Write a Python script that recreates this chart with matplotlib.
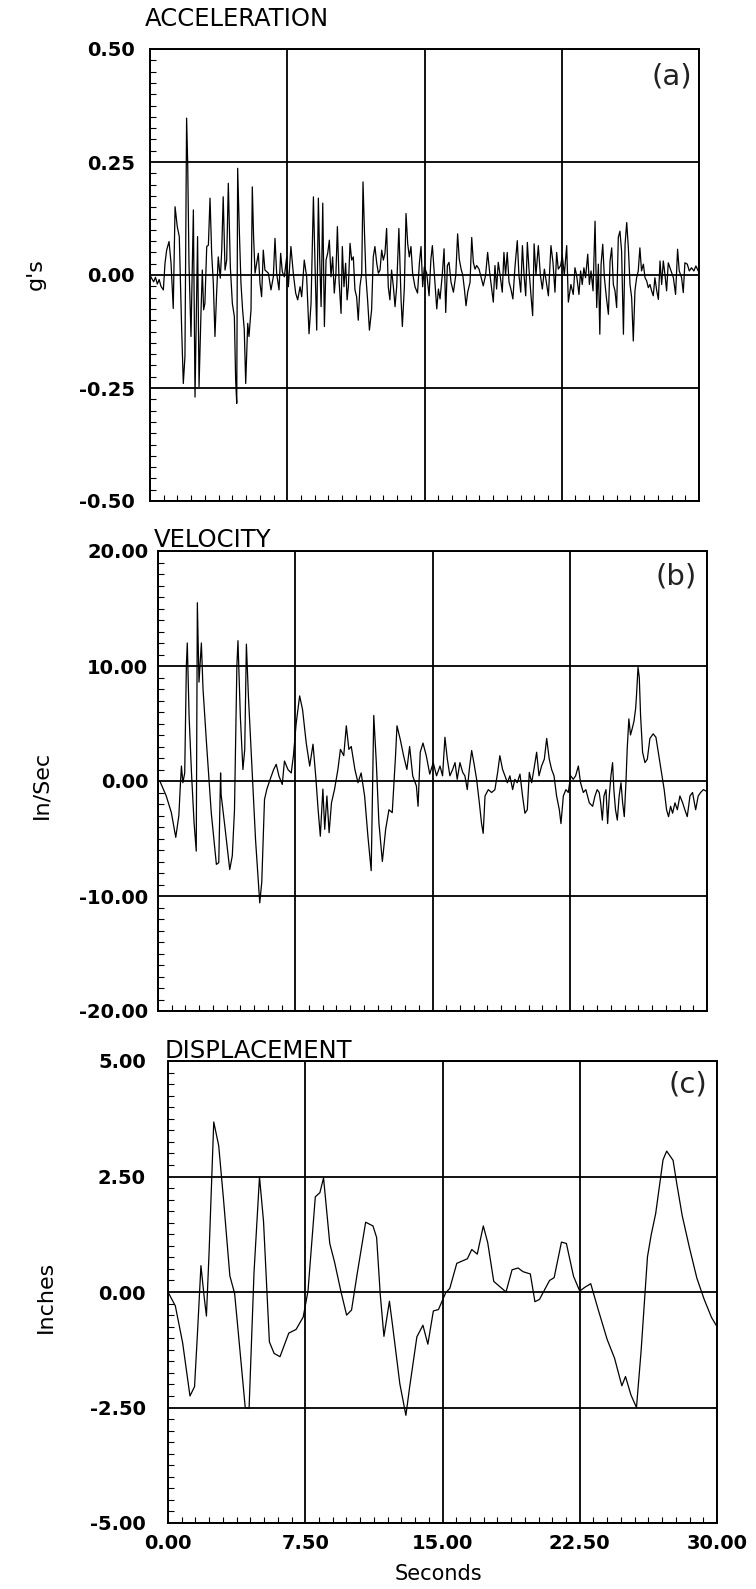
import matplotlib
matplotlib.use("Agg")
import matplotlib.pyplot as plt
from matplotlib.ticker import MultipleLocator, FixedLocator

plt.rcParams['font.family'] = ['DejaVu Sans']
plt.rcParams['axes.unicode_minus'] = False

# ---------------- data ----------------
acc_t = [0.0, 0.1, 0.2, 0.3, 0.4, 0.5, 0.6, 0.73, 0.82, 0.91, 1.04, 1.15, 1.27, 1.37, 1.49, 1.6,
         1.73, 1.82, 1.91, 2.0, 2.06, 2.13, 2.24, 2.37, 2.46, 2.55, 2.6, 2.68, 2.79, 2.86, 2.93,
         3.0, 3.1, 3.19, 3.28, 3.37, 3.46, 3.55, 3.64, 3.73, 3.84, 3.92, 4.0, 4.1, 4.19, 4.28,
         4.39, 4.5, 4.61, 4.68, 4.74, 4.79, 4.88, 4.97, 5.06, 5.15, 5.23, 5.34, 5.41, 5.52,
         5.59, 5.66, 5.74, 5.92, 6.01, 6.1, 6.19, 6.28, 6.47, 6.61, 6.74, 6.83, 6.92, 7.05,
         7.14, 7.23, 7.34, 7.47, 7.56, 7.7, 7.83, 7.96, 8.07, 8.2, 8.29, 8.43, 8.56, 8.69, 8.8,
         8.93, 9.02, 9.11, 9.2, 9.27, 9.35, 9.44, 9.53, 9.62, 9.71, 9.8, 9.89, 9.98, 10.07,
         10.16, 10.24, 10.33, 10.44, 10.51, 10.6, 10.69, 10.77, 10.84, 10.93, 11.02, 11.11,
         11.2, 11.29, 11.38, 11.47, 11.57, 11.64, 11.71, 11.8, 11.89, 11.99, 12.11, 12.2,
         12.29, 12.39, 12.48, 12.57, 12.66, 12.75, 12.84, 12.93, 13.02, 13.11, 13.2, 13.3,
         13.39, 13.48, 13.6, 13.72, 13.79, 13.9, 13.99, 14.08, 14.17, 14.26, 14.35, 14.48,
         14.62, 14.72, 14.81, 14.9, 14.99, 15.12, 15.25, 15.35, 15.43, 15.54, 15.67, 15.76,
         15.85, 15.97, 16.07, 16.16, 16.25, 16.34, 16.45, 16.58, 16.71, 16.81, 16.9, 17.0,
         17.09, 17.18, 17.27, 17.36, 17.49, 17.58, 17.67, 17.76, 17.85, 17.98, 18.12, 18.21,
         18.34, 18.45, 18.56, 18.67, 18.76, 18.85, 18.94, 19.03, 19.13, 19.25, 19.34, 19.43,
         19.52, 19.62, 19.72, 19.83, 19.95, 20.07, 20.16, 20.26, 20.35, 20.44, 20.53, 20.62,
         20.71, 20.82, 20.91, 20.99, 21.09, 21.22, 21.33, 21.44, 21.55, 21.66, 21.77, 21.91,
         22.02, 22.13, 22.22, 22.31, 22.44, 22.53, 22.64, 22.77, 22.86, 23.0, 23.13, 23.22,
         23.31, 23.44, 23.53, 23.62, 23.71, 23.8, 23.92, 24.01, 24.1, 24.21, 24.32, 24.41,
         24.5, 24.58, 24.65, 24.74, 24.83, 24.94, 25.05, 25.14, 25.23, 25.32, 25.41, 25.5,
         25.59, 25.68, 25.77, 25.87, 25.96, 26.05, 26.14, 26.23, 26.32, 26.41, 26.5, 26.59,
         26.68, 26.77, 26.86, 26.96, 27.05, 27.14, 27.23, 27.32, 27.41, 27.5, 27.59, 27.69,
         27.78, 27.87, 27.96, 28.05, 28.14, 28.23, 28.32, 28.47, 28.6, 28.72, 28.83, 28.92,
         29.05, 29.14, 29.23, 29.36, 29.47, 29.59, 29.72, 29.83, 29.96]
acc_g = [0.0, -0.008, -0.015, -0.005, -0.02, -0.01, -0.025, -0.033, 0.026, 0.055, 0.074, 0.026,
         -0.074, 0.151, 0.107, 0.085, -0.12, -0.24, -0.18, 0.347, 0.247, 0.026, -0.136, 0.144,
         -0.27, -0.04, 0.085, -0.247, -0.077, 0.011, -0.077, -0.063, 0.063, 0.066, 0.17, 0.048,
         -0.018, -0.136, -0.04, 0.04, -0.007, 0.055, 0.173, 0.011, 0.033, 0.203, 0.018, -0.063,
         -0.092, -0.232, -0.284, 0.236, 0.1, -0.018, -0.077, -0.12, -0.24, -0.107, -0.136,
         -0.077, 0.195, 0.085, 0.004, 0.048, -0.018, -0.048, 0.055, 0.011, 0.004, -0.033,
         -0.004, 0.081, 0.004, -0.033, 0.048, 0.007, -0.004, 0.04, -0.026, 0.063, 0.004, -0.04,
         -0.055, -0.026, -0.048, 0.033, -0.004, -0.13, -0.063, 0.173, 0.018, -0.122, 0.17, 0.04,
         -0.07, 0.159, -0.114, 0.033, 0.048, 0.077, -0.004, 0.04, -0.04, 0.004, 0.107, -0.011,
         -0.085, 0.063, -0.026, 0.026, -0.055, -0.026, 0.07, 0.033, 0.04, -0.033, -0.048, -0.1,
         -0.026, 0.004, 0.206, 0.107, -0.004, -0.055, -0.122, -0.077, 0.04, 0.063, 0.026, 0.004,
         0.011, 0.055, 0.033, 0.048, 0.103, -0.026, -0.055, 0.011, -0.026, -0.07, -0.026, 0.103,
         -0.055, -0.114, -0.026, 0.136, 0.07, 0.04, 0.063, 0.004, -0.026, -0.04, 0.026, 0.063,
         -0.026, 0.018, 0.004, -0.046, 0.035, 0.065, 0.0, -0.075, -0.031, -0.053, 0.0, 0.058,
         -0.083, 0.021, 0.028, -0.016, -0.038, 0.0, 0.091, 0.035, 0.013, 0.0, -0.031, -0.068,
         -0.038, -0.016, 0.083, 0.028, 0.013, 0.021, 0.013, -0.009, -0.024, 0.0, 0.05, 0.006,
         -0.031, -0.06, 0.021, -0.031, 0.028, 0.0, -0.038, 0.05, 0.0, 0.05, -0.016, -0.031,
         -0.053, 0.021, 0.076, 0.0, -0.038, 0.065, 0.0, -0.046, 0.072, 0.013, -0.046, -0.09,
         0.069, 0.0, 0.065, 0.0, -0.031, 0.013, -0.016, -0.046, 0.065, 0.028, -0.038, 0.05,
         0.013, 0.021, 0.043, 0.0, 0.065, -0.06, -0.021, -0.043, 0.016, 0.0, -0.043, 0.009,
         -0.021, 0.016, -0.006, 0.046, -0.021, 0.009, -0.035, 0.119, -0.072, 0.024, -0.131,
         0.024, 0.068, -0.006, -0.05, -0.087, 0.031, 0.06, -0.021, -0.035, -0.072, 0.083,
         0.097, 0.053, -0.131, 0.068, 0.116, 0.06, -0.021, -0.05, -0.146, -0.035, -0.006,
         0.009, 0.06, 0.009, 0.024, -0.006, -0.013, -0.028, -0.021, -0.035, -0.046, -0.006,
         -0.035, -0.054, 0.031, -0.021, 0.031, 0.001, -0.035, 0.027, 0.009, -0.006, -0.043,
         0.057, 0.009, -0.006, -0.039, 0.027, 0.024, 0.009, 0.016, 0.009, 0.02, 0.009]

vel_t = [0.0, 0.1, 0.45, 0.73, 0.97, 1.14, 1.22, 1.28, 1.36, 1.46, 1.55, 1.6, 1.7, 1.83, 1.97,
         2.09, 2.15, 2.24, 2.37, 2.46, 2.65, 2.91, 3.19, 3.32, 3.42, 3.45, 3.65, 3.92, 4.06,
         4.18, 4.31, 4.37, 4.5, 4.64, 4.74, 4.83, 4.94, 5.1, 5.33, 5.56, 5.67, 5.82, 5.95,
         6.14, 6.32, 6.46, 6.61, 6.79, 6.91, 7.1, 7.28, 7.4, 7.55, 7.74, 7.9, 8.1, 8.29, 8.47,
         8.62, 8.75, 8.87, 9.01, 9.11, 9.23, 9.35, 9.48, 9.65, 9.83, 9.97, 10.15, 10.29,
         10.43, 10.56, 10.76, 10.93, 11.1, 11.29, 11.47, 11.65, 11.79, 11.93, 12.07, 12.26,
         12.44, 12.62, 12.8, 12.98, 13.06, 13.24, 13.42, 13.6, 13.75, 13.92, 14.12, 14.21,
         14.33, 14.48, 14.66, 14.85, 15.04, 15.22, 15.41, 15.55, 15.68, 15.81, 15.95, 16.1,
         16.23, 16.35, 16.5, 16.65, 16.77, 16.9, 17.01, 17.14, 17.26, 17.41, 17.56, 17.68,
         17.77, 17.87, 18.05, 18.23, 18.41, 18.56, 18.68, 18.83, 18.96, 19.09, 19.23, 19.38,
         19.5, 19.63, 19.78, 19.92, 20.05, 20.18, 20.29, 20.42, 20.54, 20.69, 20.82, 20.96,
         21.11, 21.24, 21.38, 21.51, 21.64, 21.78, 21.93, 22.02, 22.15, 22.29, 22.42, 22.55,
         22.69, 22.82, 22.97, 23.09, 23.24, 23.38, 23.57, 23.75, 23.88, 24.0, 24.11, 24.19,
         24.28, 24.37, 24.48, 24.57, 24.66, 24.75, 24.84, 24.91, 25.0, 25.1, 25.2, 25.3,
         25.39, 25.48, 25.57, 25.64, 25.73, 25.82, 25.92, 26.01, 26.1, 26.15, 26.23, 26.3,
         26.37, 26.48, 26.61, 26.74, 26.88, 27.06, 27.21, 27.34, 27.52, 27.66, 27.79, 27.9,
         28.01, 28.12, 28.25, 28.38, 28.52, 28.67, 28.79, 28.92, 29.07, 29.21, 29.38, 29.52,
         29.65, 29.8, 29.98]
vel_v = [0.0, 0.0, -1.3, -2.75, -4.9, -3.0, -0.4, 1.3, -0.15, 0.7, 10.0, 12.0, 5.6, 0.7, -3.6,
         -6.1, 15.5, 8.6, 12.0, 8.0, 3.3, -2.75, -7.25, -7.1, 0.7, -1.2, -3.9, -7.7, -6.5,
         -2.5, 10.0, 12.2, 5.6, 1.0, 2.75, 11.9, 7.4, 2.2, -5.1, -10.6, -8.8, -1.6, -0.7,
         0.2, 1.0, 1.45, 0.43, -0.3, 1.74, 1.0, 0.7, 2.2, 5.0, 7.4, 6.2, 3.3, 1.3, 3.2, 0.4,
         -2.5, -4.8, -0.7, -4.2, -1.3, -4.5, -1.9, -0.7, 1.0, 2.75, 2.2, 4.8, 2.75, 3.0, 1.0,
         -0.15, 0.7, -1.3, -4.8, -7.8, 5.7, 1.6, -3.6, -7.0, -4.2, -2.5, -2.75, 2.2, 4.8, 3.6,
         2.2, 1.0, 3.0, 0.43, -0.43, -2.2, 2.5, 3.3, 2.2, 0.6, 1.6, 0.45, 1.3, 0.45, 3.8, 1.9,
         0.45, 1.0, 1.6, 0.15, 1.6, 0.75, 0.45, -0.75, 1.0, 2.65, 1.6, 0.15, -1.9, -3.7,
         -4.55, -1.3, -0.75, -1.0, -0.75, 0.75, 2.2, 1.0, 0.45, -0.15, 0.45, -0.75, 0.15,
         -0.15, 0.6, -1.3, -2.8, -2.5, 0.75, -0.15, 1.0, 2.5, 0.45, 1.3, 1.9, 3.7, 1.9, 1.0,
         0.45, -1.3, -2.5, -3.7, -1.3, -0.75, -1.0, 0.45, 0.15, 0.45, 1.3, -0.15, -1.0,
         -0.75, -1.9, -2.2, -1.3, -0.75, -1.0, -1.9, -3.4, -1.3, -0.75, -3.7, -1.3, 0.45,
         1.6, -0.75, -2.5, -3.4, -1.3, -0.15, -1.9, -3.1, -0.15, 2.8, 5.4, 4.0, 4.6, 5.2,
         6.3, 7.5, 9.9, 9.0, 5.7, 2.5, 1.6, 1.9, 3.7, 4.1, 3.8, 2.5, 0.75, -0.75, -2.5, -3.1,
         -2.2, -2.8, -1.9, -2.5, -1.3, -1.9, -2.5, -3.1, -1.3, -1.0, -2.5, -1.3, -1.0, -0.75,
         -0.9]

disp_t = [0.0, 0.4, 0.8, 1.2, 1.45, 1.6, 1.8, 1.98, 2.1, 2.25, 2.5, 2.77, 3.03, 3.38, 3.64,
          3.9, 4.22, 4.43, 4.7, 5.0, 5.22, 5.54, 5.8, 6.12, 6.6, 7.0, 7.39, 7.65, 8.05, 8.3,
          8.5, 8.84, 9.1, 9.45, 9.76, 10.03, 10.34, 10.8, 11.2, 11.4, 11.6, 11.8, 12.1, 12.27,
          12.67, 13.0, 13.2, 13.6, 13.93, 14.2, 14.5, 14.78, 15.17, 15.4, 15.78, 16.36, 16.6,
          16.9, 17.23, 17.47, 17.8, 18.47, 18.8, 19.13, 19.4, 19.8, 20.05, 20.3, 20.85, 21.1,
          21.5, 21.77, 22.16, 22.5, 22.77, 23.1, 23.5, 24.0, 24.4, 24.8, 25.0, 25.3, 25.6,
          25.85, 26.2, 26.4, 26.65, 27.05, 27.25, 27.6, 27.8, 28.1, 28.5, 28.9, 29.3, 29.7,
          30.0]
disp_in = [0.0, -0.3, -1.1, -2.25, -2.05, -0.97, 0.57, -0.12, -0.52, 0.91, 3.68, 3.17, 2.02,
           0.35, -0.03, -1.13, -2.5, -2.52, 0.42, 2.49, 1.53, -1.08, -1.33, -1.4, -0.89, -0.81,
           -0.54, 0.02, 2.06, 2.15, 2.47, 1.05, 0.65, 0.01, -0.5, -0.39, 0.4, 1.51, 1.43, 1.18,
           -0.06, -0.96, -0.2, -0.72, -1.99, -2.67, -2.07, -0.97, -0.72, -1.13, -0.41, -0.38,
           -0.02, 0.08, 0.62, 0.72, 0.92, 0.82, 1.43, 1.07, 0.23, 0.0, 0.48, 0.52, 0.44, 0.39,
           -0.21, -0.16, 0.25, 0.31, 1.08, 1.05, 0.34, 0.02, 0.1, 0.18, -0.37, -1.03, -1.43,
           -2.03, -1.83, -2.23, -2.5, -1.29, 0.76, 1.23, 1.7, 2.86, 3.05, 2.85, 2.35, 1.65,
           0.95, 0.3, -0.16, -0.55, -0.75]

x_ticks = [0.0, 7.5, 15.0, 22.5, 30.0]
x_tick_labels = ["0.00", "7.50", "15.00", "22.50", "30.00"]
acc_ticks = [-0.5, -0.25, 0.0, 0.25, 0.5]
acc_tick_labels = ["-0.50", "-0.25", "0.00", "0.25", "0.50"]
vel_ticks = [-20.0, -10.0, 0.0, 10.0, 20.0]
vel_tick_labels = ["-20.00", "-10.00", "0.00", "10.00", "20.00"]
disp_ticks = [-5.0, -2.5, 0.0, 2.5, 5.0]
disp_tick_labels = ["-5.00", "-2.50", "0.00", "2.50", "5.00"]

# ---------------- figure ----------------
W, H = 756, 1589
fig = plt.figure(figsize=(W / 100, H / 100), dpi=100)
fig.patch.set_facecolor('white')


def make_axes(left, top, right, bottom):
    return fig.add_axes([left / W, 1 - bottom / H, (right - left) / W, (bottom - top) / H])


def style(ax, t, y, yticks, ylabels, minor_y, ypad, show_x, tag, tagx, tagy):
    ax.plot(t, y, color='black', lw=0.9, zorder=3)
    ax.set_xlim(0, 30)
    ax.set_ylim(yticks[0], yticks[-1])
    ax.xaxis.set_major_locator(FixedLocator(x_ticks))
    ax.xaxis.set_minor_locator(MultipleLocator(0.75))
    ax.yaxis.set_major_locator(FixedLocator(yticks))
    ax.yaxis.set_minor_locator(MultipleLocator(minor_y))
    ax.set_yticklabels(ylabels, fontsize=14, fontweight='bold')
    if show_x:
        ax.set_xticklabels(x_tick_labels, fontsize=14, fontweight='bold')
    else:
        ax.set_xticklabels([])
    ax.tick_params(which='major', length=0)
    ax.tick_params(axis='y', which='major', pad=ypad)
    ax.tick_params(axis='x', which='major', pad=8)
    ax.tick_params(which='minor', direction='in', length=4, width=0.8,
                   top=False, right=False)
    ax.grid(True, which='major', color='black', lw=1.3)
    for s in ax.spines.values():
        s.set_linewidth(1.4)
        s.set_color('black')
    ax.text(tagx, tagy, tag, transform=ax.transAxes, ha='right', va='top',
            fontsize=21, color='#222222')


ax_a = make_axes(150, 49, 699, 501)
style(ax_a, acc_t, acc_g, acc_ticks, acc_tick_labels, 0.025, 11, False, "(a)", 0.987, 0.97)
ax_b = make_axes(158, 551, 707, 1011)
style(ax_b, vel_t, vel_v, vel_ticks, vel_tick_labels, 1.0, 7, False, "(b)", 0.982, 0.975)
ax_c = make_axes(168, 1061, 717, 1523)
style(ax_c, disp_t, disp_in, disp_ticks, disp_tick_labels, 0.25, 16, True, "(c)", 0.982, 0.98)


def ftext(x, y, s, **kw):
    fig.text(x / W, 1 - y / H, s, **kw)


ftext(145, 19, "ACCELERATION", ha='left', va='center', fontsize=17.5)
ftext(154, 540, "VELOCITY", ha='left', va='center', fontsize=17.5)
ftext(165, 1051, "DISPLACEMENT", ha='left', va='center', fontsize=17.5)

ftext(36, 274, "g's", ha='center', va='center', rotation=90, fontsize=16)
ftext(41, 785, "In/Sec", ha='center', va='center', rotation=90, fontsize=16)
ftext(46, 1297, "Inches", ha='center', va='center', rotation=90, fontsize=16)
ftext(438, 1574, "Seconds", ha='center', va='center', fontsize=15)

fig.savefig("out.png", dpi=100, facecolor='white')
